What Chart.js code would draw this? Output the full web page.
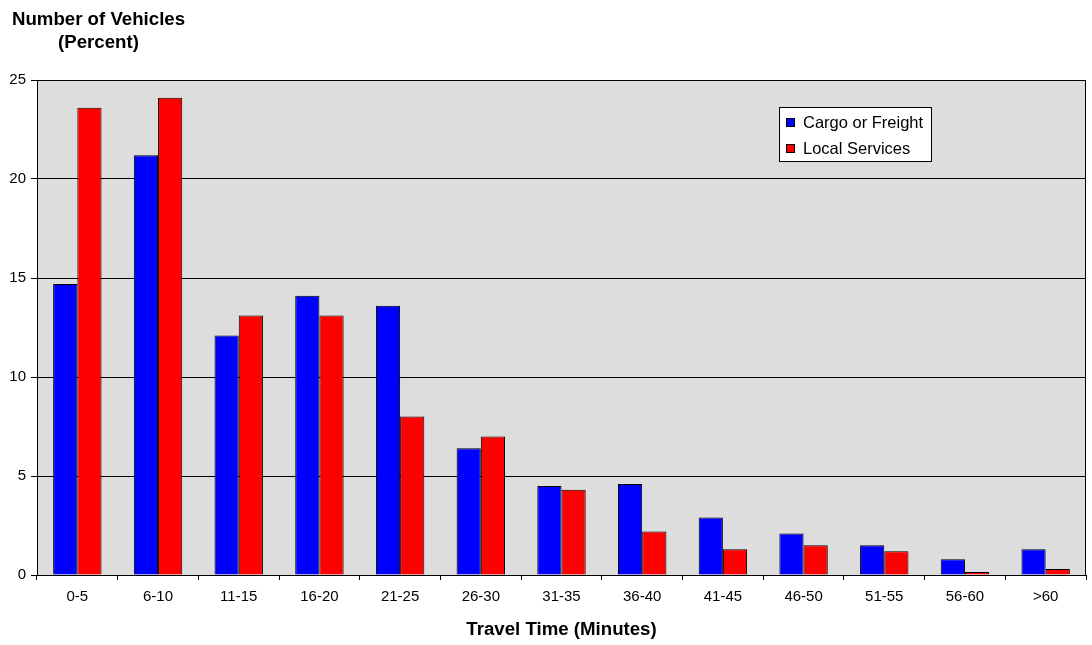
<!DOCTYPE html>
<html>
<head>
<meta charset="utf-8">
<script src="https://cdn.jsdelivr.net/npm/chart.js@4/dist/chart.umd.min.js"></script>
<style>
  html, body { margin: 0; padding: 0; background: #ffffff; }
  #wrap { width: 1092px; height: 645px; }
</style>
</head>
<body>
<div id="wrap"><canvas id="chart" width="1092" height="645"></canvas></div>
<script>
// Travel time bins (minutes)
const categories = ['0-5', '6-10', '11-15', '16-20', '21-25', '26-30', '31-35', '36-40', '41-45', '46-50', '51-55', '56-60', '>60'];
// Share of vehicles in each bin (percent)
const cargoFreight = [14.7, 21.2, 12.1, 14.1, 13.6, 6.4, 4.5, 4.6, 2.9, 2.1, 1.5, 0.8, 1.3];
const localServices = [23.6, 24.1, 13.1, 13.1, 8.0, 7.0, 4.3, 2.2, 1.3, 1.5, 1.2, 0.15, 0.3];
const seriesNames = ['Cargo or Freight', 'Local Services'];
const yTicks = [0, 5, 10, 15, 20, 25];

const FONT = '"Liberation Sans", Arial, Helvetica, sans-serif';
Chart.defaults.font.family = FONT;
Chart.defaults.color = '#000000';

// Grey plot background and black frame around the plot area
const plotFrame = {
  id: 'plotFrame',
  beforeDraw(chart) {
    const { ctx, chartArea: a } = chart;
    ctx.save();
    ctx.fillStyle = '#dddddd';
    ctx.fillRect(a.left, a.top, a.right - a.left, a.bottom - a.top);
    ctx.restore();
  },
  afterDatasetsDraw(chart) {
    const { ctx, chartArea: a } = chart;
    ctx.save();
    ctx.strokeStyle = '#000000';
    ctx.lineWidth = 1;
    ctx.strokeRect(Math.round(a.left) + 0.5, Math.round(a.top) + 0.5,
      Math.round(a.right - a.left) - 1, Math.round(a.bottom - a.top));
    ctx.restore();
  }
};

// Axis titles and the boxed legend
const annotations = {
  id: 'annotations',
  afterDraw(chart) {
    const { ctx, chartArea: a } = chart;
    ctx.save();
    ctx.fillStyle = '#000000';
    ctx.font = 'bold 18.67px ' + FONT;
    ctx.textAlign = 'center';
    ctx.textBaseline = 'alphabetic';
    ctx.fillText('Number of Vehicles', 98.5, 25);
    ctx.fillText('(Percent)', 98.5, 48);
    ctx.fillText('Travel Time (Minutes)', (a.left + a.right) / 2, 635);

    // legend box
    const bx = 779.5, by = 107.5, bw = 152, bh = 54;
    ctx.fillStyle = '#ffffff';
    ctx.fillRect(bx, by, bw, bh);
    ctx.strokeStyle = '#000000';
    ctx.lineWidth = 1;
    ctx.strokeRect(bx, by, bw, bh);
    ctx.font = '16.5px ' + FONT;
    ctx.textAlign = 'left';
    ctx.textBaseline = 'middle';
    chart.data.datasets.forEach((ds, i) => {
      const cy = 122.5 + i * 26;
      ctx.fillStyle = ds.backgroundColor;
      ctx.fillRect(786, cy - 4.5, 9, 9);
      ctx.strokeStyle = '#000000';
      ctx.strokeRect(786.5, cy - 4, 8, 8);
      ctx.fillStyle = '#000000';
      ctx.fillText(ds.label, 803, cy + 0.5);
    });
    ctx.restore();
  }
};

new Chart(document.getElementById('chart'), {
  type: 'bar',
  data: {
    labels: categories,
    datasets: [
      {
        label: seriesNames[0],
        data: cargoFreight,
        backgroundColor: '#0000ff',
        borderColor: '#000000',
        borderWidth: 1,
        categoryPercentage: 0.6,
        barPercentage: 1.0
      },
      {
        label: seriesNames[1],
        data: localServices,
        backgroundColor: '#ff0000',
        borderColor: '#000000',
        borderWidth: 1,
        categoryPercentage: 0.6,
        barPercentage: 1.0
      }
    ]
  },
  options: {
    responsive: false,
    animation: false,
    layout: { padding: { top: 80, right: 6, left: 0, bottom: 0 } },
    plugins: {
      legend: { display: false },
      title: { display: false },
      tooltip: { enabled: false }
    },
    scales: {
      x: {
        offset: true,
        grid: {
          offset: true,
          drawOnChartArea: false,
          drawTicks: true,
          tickLength: 5,
          color: '#000000'
        },
        border: { display: true, color: '#000000' },
        ticks: {
          font: { size: 15 },
          padding: 8,
          maxRotation: 0,
          autoSkip: false
        },
        afterFit(scale) { scale.height = 70; }
      },
      y: {
        min: 0,
        max: 25,
        afterBuildTicks(scale) { scale.ticks = yTicks.map(v => ({ value: v })); },
        grid: {
          color: '#000000',
          lineWidth: 1,
          drawTicks: true,
          tickLength: 6
        },
        border: { display: true, color: '#000000' },
        ticks: {
          font: { size: 15 },
          padding: 5
        },
        afterFit(scale) { scale.width = 37; }
      }
    }
  },
  plugins: [plotFrame, annotations]
});
</script>
</body>
</html>
